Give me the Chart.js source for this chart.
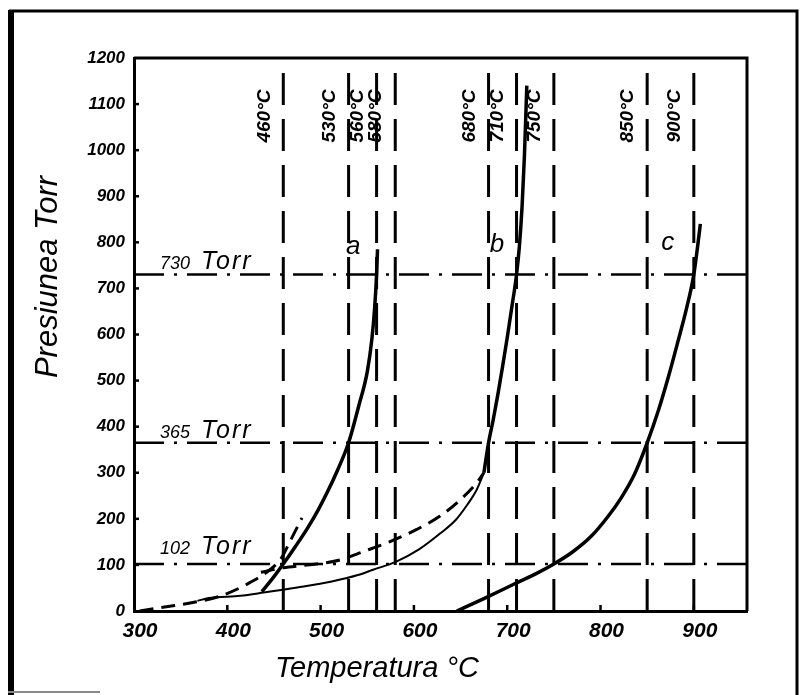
<!DOCTYPE html>
<html>
<head>
<meta charset="utf-8">
<script src="https://cdn.jsdelivr.net/npm/chart.js@4.4.0/dist/chart.umd.min.js"></script>
<style>
  html, body { margin: 0; padding: 0; background: #fff; }
  #wrap { width: 805px; height: 695px; }
</style>
</head>
<body>
<div id="wrap"><canvas id="chart" width="805" height="695"></canvas></div>
<script>
// temperatures marked with vertical dashed lines (°C)
const isoTemps = [460, 530, 560, 580, 680, 710, 750, 850, 900];
const isoLabels = ['460°C', '530°C', '560°C', '580°C', '680°C', '710°C', '750°C', '850°C', '900°C'];

// reference pressures, dash-dot lines (Torr)
const refPres = [730, 365, 102];
const refLabels = ['730', '365', '102'];

// curve a
const aTemp = [437, 449, 460, 473, 486, 497, 507, 518, 530, 541, 550, 555, 558, 560, 561];
const aPres = [42, 72, 102, 140, 180, 218, 257, 305, 365, 446, 519, 591, 660, 730, 785];

// curve b, upper (thick) part
const bTemp = [675, 680, 685, 690, 695, 700, 705, 710, 713, 716, 718.5, 721];
const bPres = [300, 365, 415, 470, 530, 593, 660, 730, 790, 880, 990, 1140];

// curve b, lower thin branch
const bLowTemp = [368, 380, 414, 439, 475, 512, 540, 557, 580, 605, 628, 645, 657, 667, 675];
const bLowPres = [22, 28, 33, 40, 51, 64, 78, 90, 106, 133, 168, 198, 230, 262, 300];

// dashed curves
const d1Temp = [306, 331, 367, 392, 421, 446, 458, 467, 480];
const d1Pres = [0, 8, 20, 32, 58, 90, 115, 150, 202];
const d2Temp = [436, 460, 482, 503, 521, 546, 575, 603, 628, 650, 668, 675];
const d2Pres = [84, 94, 99, 104, 111, 129, 151, 177, 206, 242, 280, 300];

// curve c
const cTemp = [646, 675, 707, 730, 750, 770, 790, 808, 822, 836, 850, 862, 873, 883, 892, 900, 904, 907];
const cPres = [0, 27, 58, 80, 102, 128, 162, 205, 245, 295, 365, 435, 510, 585, 655, 730, 790, 840];

// curve letters
const curveNames = ['a', 'b', 'c'];
const curveNameTemp = [535, 689, 872];
const curveNamePres = [790, 795, 798];

const X_MIN = 300, X_MAX = 957, Y_MIN = 0, Y_MAX = 1200;
const FONT = "'Liberation Sans', 'DejaVu Sans', sans-serif";

function pts(xs, ys) {
  return xs.map((x, i) => ({ x: x, y: ys[i] }));
}

const datasets = [];

isoTemps.forEach(t => {
  datasets.push({
    data: [{ x: t, y: Y_MIN }, { x: t, y: Y_MAX }],
    borderColor: '#000', borderWidth: 3, borderDash: [32, 14],
    borderCapStyle: 'butt'
  });
});

refPres.forEach(p => {
  datasets.push({
    data: [{ x: X_MIN, y: p }, { x: X_MAX, y: p }],
    borderColor: '#000', borderWidth: 2.5, borderDash: [30, 10, 3, 10]
  });
});

const smooth = { cubicInterpolationMode: 'monotone', borderColor: '#000' };
datasets.push(Object.assign({ data: pts(d1Temp, d1Pres), borderWidth: 3, borderDash: [14, 8] }, smooth));
datasets.push(Object.assign({ data: pts(d2Temp, d2Pres), borderWidth: 3, borderDash: [14, 8] }, smooth));
datasets.push(Object.assign({ data: pts(bLowTemp, bLowPres), borderWidth: 2 }, smooth));
datasets.push(Object.assign({ data: pts(aTemp, aPres), borderWidth: 3.5 }, smooth));
datasets.push(Object.assign({ data: pts(bTemp, bPres), borderWidth: 3.5 }, smooth));
datasets.push(Object.assign({ data: pts(cTemp, cPres), borderWidth: 3.5 }, smooth));

// frame, inward ticks, titles and hand-lettered annotations
const decor = {
  id: 'decor',
  beforeDraw(chart) {
    const ctx = chart.ctx;
    ctx.save();
    ctx.fillStyle = '#fff';
    ctx.fillRect(0, 0, chart.width, chart.height);
    ctx.strokeStyle = '#000';
    ctx.lineWidth = 6;
    ctx.beginPath();
    ctx.moveTo(11, 10); ctx.lineTo(11, 695);
    ctx.stroke();
    ctx.lineWidth = 3;
    ctx.beginPath();
    ctx.moveTo(9, 11); ctx.lineTo(797, 11); ctx.lineTo(797, 695);
    ctx.stroke();
    ctx.strokeStyle = '#888';
    ctx.lineWidth = 2;
    ctx.beginPath();
    ctx.moveTo(8, 692); ctx.lineTo(100, 692);
    ctx.stroke();
    ctx.restore();
  },
  afterDatasetsDraw(chart) {
    const ctx = chart.ctx;
    const { left, right, top, bottom } = chart.chartArea;
    const xs = chart.scales.x, ys = chart.scales.y;
    ctx.save();
    ctx.strokeStyle = '#000';
    ctx.lineWidth = 3;
    ctx.beginPath();
    ctx.moveTo(left, top); ctx.lineTo(right, top); ctx.lineTo(right, bottom);
    ctx.stroke();

    ctx.lineWidth = 2.5;
    ys.ticks.forEach(t => {
      if (t.value <= Y_MIN || t.value >= Y_MAX) return;
      const y = ys.getPixelForValue(t.value);
      ctx.beginPath(); ctx.moveTo(left, y); ctx.lineTo(left + 5, y); ctx.stroke();
    });
    xs.ticks.forEach(t => {
      if (t.value <= X_MIN) return;
      const x = xs.getPixelForValue(t.value);
      ctx.beginPath(); ctx.moveTo(x, bottom); ctx.lineTo(x, bottom - 6); ctx.stroke();
    });

    ctx.fillStyle = '#000';
    // axis titles
    ctx.textAlign = 'center';
    ctx.textBaseline = 'middle';
    ctx.font = 'italic 29px ' + FONT;
    ctx.fillText('Temperatura °C', 377, 669);
    ctx.save();
    ctx.translate(48, 277);
    ctx.rotate(-Math.PI / 2);
    ctx.font = 'italic 31px ' + FONT;
    ctx.fillText('Presiunea Torr', 0, 0);
    ctx.restore();

    // temperature labels, written upward beside each dashed line
    ctx.font = 'italic bold 19px ' + FONT;
    isoTemps.forEach((t, i) => {
      const x = xs.getPixelForValue(t) - 19;
      ctx.save();
      ctx.translate(x, 116);
      ctx.rotate(-Math.PI / 2);
      ctx.fillText(isoLabels[i], 0, 0);
      ctx.restore();
    });

    // pressure labels above the dash-dot lines
    const lift = [6, 5, 10];
    ctx.textAlign = 'left';
    ctx.textBaseline = 'alphabetic';
    refPres.forEach((p, i) => {
      const y = ys.getPixelForValue(p) - lift[i];
      ctx.font = 'italic 18px ' + FONT;
      ctx.fillText(refLabels[i], 160, y);
      ctx.font = 'italic 25px ' + FONT;
      ctx.letterSpacing = '2px';
      ctx.fillText('Torr', 201, y);
      ctx.letterSpacing = '0px';
    });

    // curve letters
    ctx.font = 'italic 26px ' + FONT;
    ctx.textAlign = 'center';
    ctx.textBaseline = 'middle';
    curveNames.forEach((n, i) => {
      ctx.fillText(n, xs.getPixelForValue(curveNameTemp[i]), ys.getPixelForValue(curveNamePres[i]));
    });
    ctx.restore();
  }
};

new Chart(document.getElementById('chart'), {
  type: 'scatter',
  data: { datasets: datasets },
  options: {
    responsive: false,
    animation: false,
    devicePixelRatio: 1,
    showLine: true,
    layout: { padding: { left: 0, top: 58, right: 58, bottom: 0 } },
    elements: { point: { radius: 0, hoverRadius: 0 } },
    plugins: { legend: { display: false }, tooltip: { enabled: false } },
    scales: {
      x: {
        type: 'linear', min: X_MIN, max: X_MAX,
        grid: { display: false, drawTicks: false },
        border: { display: true, color: '#000', width: 3 },
        ticks: {
          stepSize: 100, includeBounds: false, color: '#000', padding: 8,
          labelOffset: 6, maxRotation: 0,
          callback: v => String(v),
          font: { family: FONT, size: 21, style: 'italic', weight: 'bold' }
        },
        afterFit(scale) { scale.height = 84; }
      },
      y: {
        type: 'linear', min: Y_MIN, max: Y_MAX,
        grid: { display: false, drawTicks: false },
        border: { display: true, color: '#000', width: 3 },
        ticks: {
          stepSize: 100, color: '#000', padding: 9,
          callback: v => String(v),
          font: { family: FONT, size: 17, style: 'italic', weight: 'bold' }
        },
        afterFit(scale) { scale.width = 134; }
      }
    }
  },
  plugins: [decor]
});
</script>
</body>
</html>
